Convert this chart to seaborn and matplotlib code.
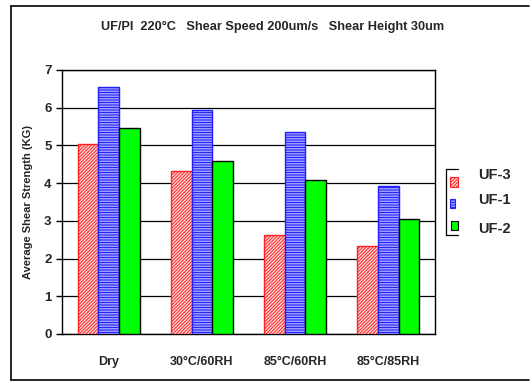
import matplotlib
matplotlib.use("Agg")
import matplotlib.pyplot as plt
import seaborn as sns
import pandas as pd
from matplotlib.patches import Rectangle
from matplotlib.lines import Line2D

conditions = ["Dry", "30°C/60RH", "85°C/60RH", "85°C/85RH"]
series = ["UF-3", "UF-1", "UF-2"]
uf3 = [5.04, 4.32, 2.63, 2.34]
uf1 = [6.56, 5.94, 5.35, 3.93]
uf2 = [5.47, 4.60, 4.08, 3.04]
yticks = [0, 1, 2, 3, 4, 5, 6, 7]
title = "UF/PI  220°C   Shear Speed 200um/s   Shear Height 30um"
ylabel = "Average Shear Strength (KG)"

df = pd.DataFrame({
    "cond": conditions * 3,
    "val": uf3 + uf1 + uf2,
    "series": [s for s in series for _ in conditions],
})

sns.set_style("white")
plt.rcParams["font.family"] = ["Liberation Sans", "DejaVu Sans"]
plt.rcParams["font.weight"] = "bold"
plt.rcParams["hatch.linewidth"] = 0.7

W, H = 530, 382
fig = plt.figure(figsize=(W / 100, H / 100), dpi=100)
ax = fig.add_axes([62 / W, 1 - 334 / H, (435 - 62) / W, (334 - 70) / H])

sns.barplot(data=df, x="cond", y="val", hue="series", hue_order=series,
            order=conditions, width=0.665, ax=ax, legend=False,
            palette=["white", "white", "#00ff00"], saturation=1, zorder=3)

styles = [
    dict(fc="#ffd8d8", ec="#ff2020", hatch="//////////"),
    dict(fc="#d8d8ff", ec="#2020ff", hatch="----------"),
    dict(fc="#00ff00", ec="black", hatch=None),
]
for cont, st in zip(ax.containers, styles):
    for p in cont:
        p.set_facecolor(st["fc"])
        p.set_edgecolor(st["ec"])
        p.set_linewidth(1.0)
        if st["hatch"]:
            p.set_hatch(st["hatch"])

ax.set_ylim(0, 7)
ax.set_xlim(-0.5, len(conditions) - 0.5)
ax.set_yticks(yticks)
ax.set_yticklabels([str(t) for t in yticks], fontsize=9.5, fontweight="bold")
ax.set_xticks(range(len(conditions)))
ax.set_xticklabels(conditions, fontsize=9, fontweight="bold")
ax.set_xticks([i - 0.5 for i in range(len(conditions) + 1)], minor=True)
ax.tick_params(axis="x", which="major", length=0, pad=16)
ax.tick_params(axis="x", which="minor", length=4.5, width=1, direction="out", color="black")
ax.tick_params(axis="y", length=4.5, width=1, direction="out", color="black", pad=3, left=True)
ax.yaxis.grid(True, color="black", linewidth=0.9, zorder=0)
ax.set_axisbelow(True)
for s in ax.spines.values():
    s.set_color("black")
    s.set_linewidth(1.0)
    s.set_visible(True)
ax.set_xlabel("")
ax.set_ylabel(ylabel, fontsize=8, fontweight="bold", labelpad=8)

fig.text(273 / W, 1 - 27 / H, title, ha="center", va="center", fontsize=9.2, fontweight="bold")

# outer chart border
T = fig.transFigure
def px(x, y):
    return (x / W, 1 - y / H)
for (x0, y0), (x1, y1) in [((11, 6), (11, 380)), ((11, 6), (529, 6)), ((11, 380), (529, 380))]:
    a, b = px(x0, y0), px(x1, y1)
    fig.add_artist(Line2D([a[0], b[0]], [a[1], b[1]], transform=T, color="black", lw=1.2))

# legend (bracket-like box)
for (x0, y0), (x1, y1) in [((446, 169), (446, 235)), ((446, 169), (458, 169)), ((446, 235), (458, 235))]:
    a, b = px(x0, y0), px(x1, y1)
    fig.add_artist(Line2D([a[0], b[0]], [a[1], b[1]], transform=T, color="black", lw=0.9))
leg_patches = [(450, 177, 8, 10), (450, 199, 5, 9), (451, 221, 7, 9)]
leg_text_y = [175, 200, 229]
for (x, y, w, h), st, name, ty in zip(leg_patches, styles, series, leg_text_y):
    a = px(x, y + h)
    r = Rectangle(a, w / W, h / H, transform=T, facecolor=st["fc"], edgecolor=st["ec"],
                  hatch=st["hatch"], lw=0.8)
    fig.add_artist(r)
    fig.text(478 / W, 1 - ty / H, name, ha="left", va="center", fontsize=10.5, fontweight="bold")

fig.savefig("out.png", dpi=100)
